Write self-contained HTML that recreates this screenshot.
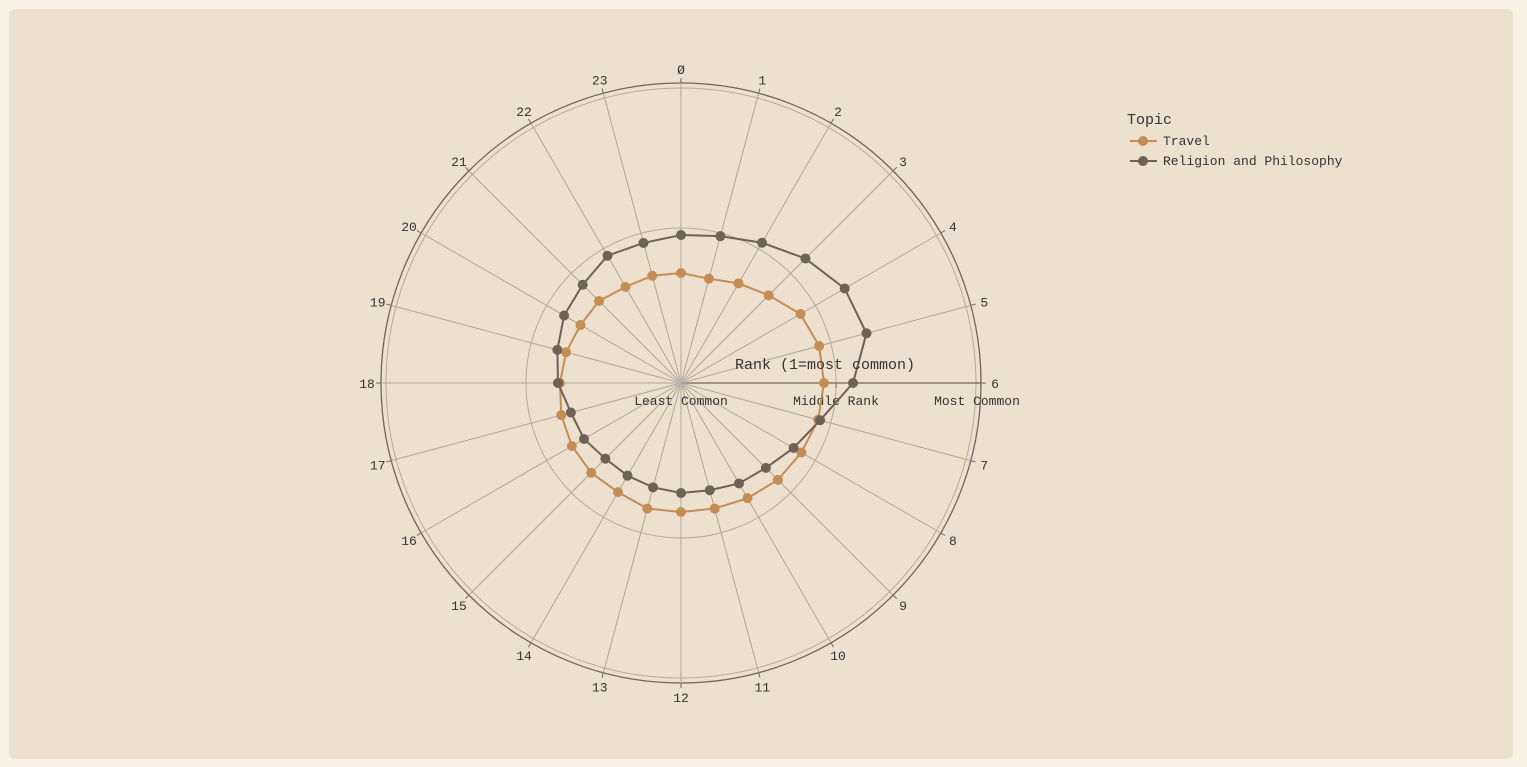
<!DOCTYPE html>
<html><head><meta charset="utf-8"><style>
html,body{margin:0;padding:0;background:#f8f1e4;}
body{width:1527px;height:767px;overflow:hidden;position:relative;font-family:"Liberation Mono","DejaVu Sans Mono",monospace;}
.card{position:absolute;left:9px;top:9px;width:1504px;height:750px;background:#ede0cf;border-radius:6px;}
svg{position:absolute;left:0;top:0;}
</style></head><body>
<div class="card"></div>
<svg id="s" width="1527" height="767" xmlns="http://www.w3.org/2000/svg" font-family="Liberation Mono, DejaVu Sans Mono, monospace"></svg>
<script>
const cx=681,cy=383,R=300;
const rel=[148,152,162,176,189,192,172,144,130,120,116,111,110,108,107,107,112,114,123,128,135,139,147,145];
const tra=[110,108,115,124,138,143,143,142,139,137,133,130,129,130,126,127,126,124,121,119,116,116,111,111];
let s='';
function pt(i,r){const a=i*Math.PI/12;return [cx+r*Math.sin(a),cy-r*Math.cos(a)];}
s+=`<circle cx="${cx}" cy="${cy}" r="155" fill="none" stroke="#b9aa98" stroke-width="1"/>`;
s+=`<circle cx="${cx}" cy="${cy}" r="295" fill="none" stroke="#b9aa98" stroke-width="1"/>`;
s+=`<circle cx="${cx}" cy="${cy}" r="${R}" fill="none" stroke="#6f655b" stroke-width="1.3"/>`;
for(let i=0;i<24;i++){const [x,y]=pt(i,R);s+=`<line x1="${cx}" y1="${cy}" x2="${x}" y2="${y}" stroke="#b3a595" stroke-width="1"/>`;
const [x1,y1]=pt(i,R+5);s+=`<line x1="${x}" y1="${y}" x2="${x1}" y2="${y1}" stroke="#6f655b"/>`;
const [lx,ly]=pt(i,R+14);s+=`<text x="${lx}" y="${ly+5}" font-size="13" fill="#333" text-anchor="middle">${i==0?'Ø':i}</text>`;}
s+=`<line x1="${cx}" y1="${cy}" x2="${cx+R}" y2="${cy}" stroke="#6f655b" stroke-width="1.3"/>`;
s+=`<line x1="${cx+155}" y1="${cy}" x2="${cx+155}" y2="${cy+5}" stroke="#6f655b"/>`;
s+=`<circle cx="${cx}" cy="${cy}" r="6" fill="#bbb" opacity="0.6"/>`;
s+=`<text x="${cx}" y="405" font-size="13" fill="#333" text-anchor="middle">Least Common</text>`;
s+=`<text x="${cx+155}" y="405" font-size="13" fill="#333" text-anchor="middle">Middle Rank</text>`;
s+=`<text x="${cx+296}" y="405" font-size="13" fill="#333" text-anchor="middle">Most Common</text>`;
function series(d,c){let p=d.map((r,i)=>pt(i,r));let str=p.map(q=>q.join(',')).join(' ');
s+=`<polygon points="${str}" fill="none" stroke="${c}" stroke-width="2"/>`;
p.forEach(q=>s+=`<circle cx="${q[0]}" cy="${q[1]}" r="5" fill="${c}"/>`);}
series(tra,'#c48d55');series(rel,'#6e6256');
s+=`<text x="825" y="369" font-size="15" fill="#333" text-anchor="middle">Rank (1=most common)</text>`;
s+=`<text x="1127" y="124" font-size="15" fill="#333">Topic</text>`;
s+=`<line x1="1130" y1="141" x2="1157" y2="141" stroke="#c48d55" stroke-width="2"/><circle cx="1143" cy="141" r="5" fill="#c48d55"/>`;
s+=`<text x="1163" y="145" font-size="13" fill="#333">Travel</text>`;
s+=`<line x1="1130" y1="161" x2="1157" y2="161" stroke="#6e6256" stroke-width="2"/><circle cx="1143" cy="161" r="5" fill="#6e6256"/>`;
s+=`<text x="1163" y="165" font-size="13" fill="#333">Religion and Philosophy</text>`;
document.getElementById('s').innerHTML=s;
</script>
</body></html>
